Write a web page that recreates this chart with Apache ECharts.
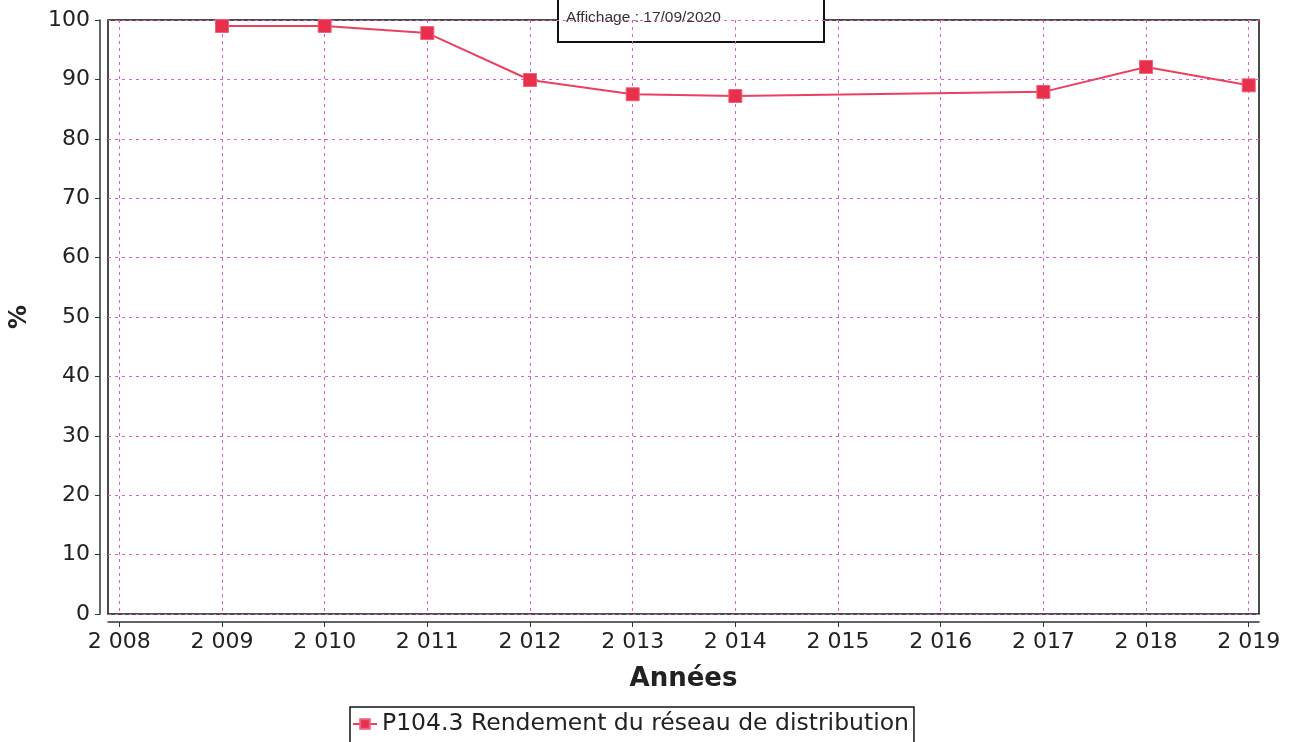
<!DOCTYPE html>
<html><head><meta charset="utf-8">
<script src="https://cdn.jsdelivr.net/npm/echarts@6/dist/echarts.min.js"></script>
<style>html,body{margin:0;padding:0;background:#fff}#c{width:1293px;height:742px}</style>
</head><body><div id="c"></div>
<script>
const years = [2009, 2010, 2011, 2012, 2013, 2014, 2017, 2018, 2019];
const values = [99.0, 99.0, 97.8, 89.9, 87.5, 87.2, 87.9, 92.1, 89.0];
const xTicks = [2008, 2009, 2010, 2011, 2012, 2013, 2014, 2015, 2016, 2017, 2018, 2019];
const yTicks = [0, 10, 20, 30, 40, 50, 60, 70, 80, 90, 100];
const seriesName = 'P104.3 Rendement du réseau de distribution';
const stampText = 'Affichage : 17/09/2020';

const font = 'DejaVu Sans';
const chart = echarts.init(document.getElementById('c'));
const fmtYear = v => { const s = String(Math.round(v)); return s.slice(0, 1) + ' ' + s.slice(1); };
chart.setOption({
  animation: false,
  backgroundColor: '#fff',
  grid: { left: 108, top: 20, width: 1151, height: 594, show: true, borderColor: '#111', borderWidth: 1.5, backgroundColor: 'transparent' },
  xAxis: {
    type: 'value', min: 2007.89, max: 2019.1,
    name: 'Années', nameLocation: 'middle', nameGap: 44,
    nameTextStyle: { fontFamily: font, fontSize: 26, fontWeight: 'bold', color: '#222' },
    offset: 8,
    axisLine: { show: true, onZero: false, lineStyle: { color: '#333', width: 1.5 } },
    axisTick: { show: true, length: 5, inside: false, customValues: xTicks, lineStyle: { color: '#333' } },
    axisLabel: { customValues: xTicks, formatter: fmtYear, fontFamily: font, fontSize: 22, color: '#222', margin: 9 },
    splitLine: { show: true, lineStyle: { color: '#d860c8', type: [3, 4], width: 1 } }
  },
  yAxis: {
    type: 'value', min: 0, max: 100, interval: 10,
    name: '%', nameLocation: 'middle', nameGap: 68, nameRotate: 90,
    nameTextStyle: { fontFamily: font, fontSize: 24, fontWeight: 'bold', color: '#222' },
    offset: 8,
    axisLine: { show: true, onZero: false, lineStyle: { color: '#333', width: 1.5 } },
    axisTick: { show: true, length: 5, lineStyle: { color: '#333' } },
    axisLabel: { fontFamily: font, fontSize: 22, color: '#222', margin: 10 },
    splitLine: { show: true, lineStyle: { color: '#d860c8', type: [3, 4], width: 1 } }
  },
  legend: {
    top: 707, left: 350,
    data: [seriesName],
    itemWidth: 24, itemHeight: 12, itemGap: 5,
    padding: [5, 5, 14, 2],
    borderColor: '#111', borderWidth: 1.5,
    textStyle: { fontFamily: font, fontSize: 23.5, color: '#222' }
  },
  series: [{
    name: seriesName, type: 'line',
    data: years.map((y, i) => [y, values[i]]),
    symbol: 'rect', symbolSize: 13,
    lineStyle: { color: '#ec4060', width: 2 },
    itemStyle: { color: '#e8304c', borderColor: '#f06078', borderWidth: 1 },
    z: 5
  }],
  graphic: [{
    type: 'group', left: 557, top: -2,
    children: [
      { type: 'rect', shape: { x: 0, y: 0, width: 266, height: 43 }, style: { fill: '#fff', stroke: '#111', lineWidth: 2 } },
      { type: 'text', x: 8, y: 11, style: { text: stampText, fontFamily: 'Liberation Sans', fontSize: 15.5, fill: '#333' } }
    ]
  }]
});
</script></body></html>
